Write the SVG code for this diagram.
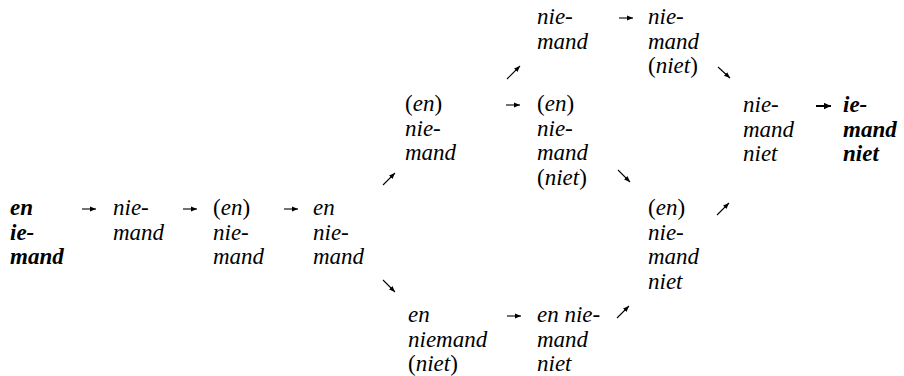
<svg xmlns="http://www.w3.org/2000/svg" width="904" height="376" viewBox="0 0 904 376">
<style>
text{font-family:"Liberation Serif","Times New Roman",serif;font-size:23px;font-style:italic;fill:#000}
.b{font-weight:bold}
.r{font-style:normal}
.c line{stroke:#000;stroke-width:1.1;fill:none}
.c line.k{stroke-width:2}
</style>
<defs>
<marker id="ah" viewBox="0 0 6 6" refX="6" refY="3" markerWidth="6" markerHeight="6" markerUnits="userSpaceOnUse" orient="auto"><path d="M0,0.6 L6,3 L0,5.4 z" fill="#000"/></marker>
<marker id="ahb" viewBox="0 0 7 7" refX="7" refY="3.5" markerWidth="7" markerHeight="7" markerUnits="userSpaceOnUse" orient="auto"><path d="M0,0.3 L7,3.5 L0,6.7 z" fill="#000"/></marker>
</defs>
<g id="n1"><text class="b"><tspan x="10" y="215">en</tspan><tspan x="10" y="239.5">ie-</tspan><tspan x="10" y="264">mand</tspan></text></g>
<g id="n2"><text><tspan x="113" y="215">nie-</tspan><tspan x="113" y="239.5">mand</tspan></text></g>
<g id="n3"><text><tspan x="213" y="215"><tspan class="r">(</tspan>en<tspan class="r">)</tspan></tspan><tspan x="213" y="239.5">nie-</tspan><tspan x="213" y="264">mand</tspan></text></g>
<g id="n4"><text><tspan x="313" y="215">en</tspan><tspan x="313" y="239.5">nie-</tspan><tspan x="313" y="264">mand</tspan></text></g>
<g id="n5"><text><tspan x="405" y="111"><tspan class="r">(</tspan>en<tspan class="r">)</tspan></tspan><tspan x="405" y="135.5">nie-</tspan><tspan x="405" y="160">mand</tspan></text></g>
<g id="n6"><text><tspan x="408" y="322">en</tspan><tspan x="408" y="346.5">niemand</tspan><tspan x="408" y="371"><tspan class="r">(</tspan>niet<tspan class="r">)</tspan></tspan></text></g>
<g id="n7"><text><tspan x="537" y="24">nie-</tspan><tspan x="537" y="48.5">mand</tspan></text></g>
<g id="n8"><text><tspan x="537" y="111"><tspan class="r">(</tspan>en<tspan class="r">)</tspan></tspan><tspan x="537" y="135.5">nie-</tspan><tspan x="537" y="160">mand</tspan><tspan x="537" y="184.5"><tspan class="r">(</tspan>niet<tspan class="r">)</tspan></tspan></text></g>
<g id="n9"><text><tspan x="537" y="322">en nie-</tspan><tspan x="537" y="346.5">mand</tspan><tspan x="537" y="371">niet</tspan></text></g>
<g id="n10"><text><tspan x="648" y="24">nie-</tspan><tspan x="648" y="48.5">mand</tspan><tspan x="648" y="73"><tspan class="r">(</tspan>niet<tspan class="r">)</tspan></tspan></text></g>
<g id="n11"><text><tspan x="648" y="215"><tspan class="r">(</tspan>en<tspan class="r">)</tspan></tspan><tspan x="648" y="239.5">nie-</tspan><tspan x="648" y="264">mand</tspan><tspan x="648" y="288.5">niet</tspan></text></g>
<g id="n12"><text><tspan x="743" y="112">nie-</tspan><tspan x="743" y="136.5">mand</tspan><tspan x="743" y="161">niet</tspan></text></g>
<g id="n13"><text class="b"><tspan x="843" y="112">ie-</tspan><tspan x="843" y="136.5">mand</tspan><tspan x="843" y="161">niet</tspan></text></g>
<g id="connectors" class="c">
<line x1="82" y1="209" x2="96" y2="209" marker-end="url(#ah)"/>
<line x1="183" y1="209" x2="197" y2="209" marker-end="url(#ah)"/>
<line x1="284" y1="209" x2="298" y2="209" marker-end="url(#ah)"/>
<line x1="383" y1="185" x2="395" y2="173" marker-end="url(#ah)"/>
<line x1="383" y1="280" x2="395" y2="292" marker-end="url(#ah)"/>
<line x1="507" y1="79" x2="520" y2="66" marker-end="url(#ah)"/>
<line x1="506" y1="105" x2="520" y2="105" marker-end="url(#ah)"/>
<line x1="507" y1="316" x2="521" y2="316" marker-end="url(#ah)"/>
<line x1="619" y1="18" x2="633" y2="18" marker-end="url(#ah)"/>
<line x1="618" y1="170" x2="630" y2="182" marker-end="url(#ah)"/>
<line x1="617" y1="318" x2="629" y2="306" marker-end="url(#ah)"/>
<line x1="718" y1="67" x2="730" y2="78" marker-end="url(#ah)"/>
<line x1="717" y1="215" x2="729" y2="203" marker-end="url(#ah)"/>
<line class="k" x1="816" y1="106" x2="831" y2="106" marker-end="url(#ahb)"/>
</g>
</svg>
